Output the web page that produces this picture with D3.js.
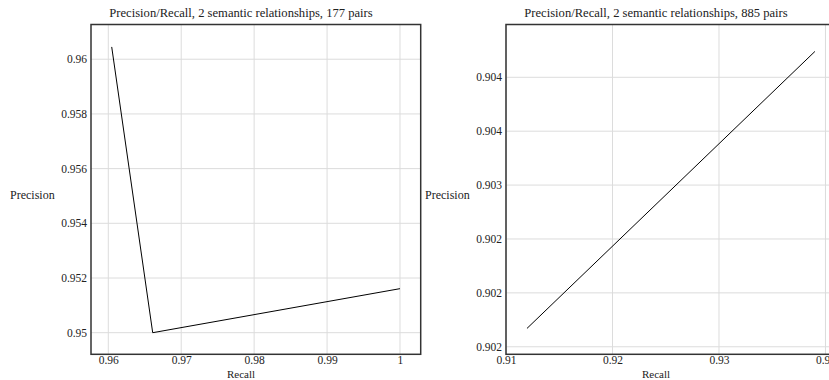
<!DOCTYPE html>
<html>
<head>
<meta charset="utf-8">
<script src="https://cdn.jsdelivr.net/npm/d3@7"></script>
<style>
  body { margin: 0; background: #fff; overflow: hidden; }
  text { font-family: "Liberation Serif", "Times New Roman", serif; fill: #222; }
</style>
</head>
<body>
<div id="canvas"></div>
<script>
// chart 1: 177 pairs
const recall177 = [0.96047, 0.96609, 1.0];
const precision177 = [0.96045, 0.95, 0.95161];
const xTicks177 = [0.96, 0.97, 0.98, 0.99, 1];
const xLabels177 = ["0.96", "0.97", "0.98", "0.99", "1"];
const yTicks177 = [0.95, 0.952, 0.954, 0.956, 0.958, 0.96];
const yLabels177 = ["0.95", "0.952", "0.954", "0.956", "0.958", "0.96"];

// chart 2: 885 pairs
const recall885 = [0.91197, 0.93901];
const precision885 = [0.90167, 0.90424];
const xTicks885 = [0.91, 0.92, 0.93, 0.94];
const xLabels885 = ["0.91", "0.92", "0.93", "0.94"];
const yTicks885 = [0.9015, 0.902, 0.9025, 0.903, 0.9035, 0.904];
const yLabels885 = ["0.902", "0.902", "0.902", "0.903", "0.904", "0.904"];

const titles = [
  "Precision/Recall, 2 semantic relationships, 177 pairs",
  "Precision/Recall, 2 semantic relationships, 885 pairs"
];

const W = 829, H = 380;
const FONT = "12px";
const TICK_FONT = "11.5px";
const svg = d3.select("#canvas").append("svg")
  .attr("width", W)
  .attr("height", H);

// plot box, relative to each panel
const box = { left: 91, top: 24.5, width: 329.7, height: 329.8 };

function drawPanel(offsetX, xs, ys, xDomain, yDomain, xTicks, xLabels, yTicks, yLabels, title) {
  const g = svg.append("g").attr("transform", "translate(" + offsetX + ",0)");
  const x = d3.scaleLinear().domain(xDomain).range([box.left, box.left + box.width]);
  const y = d3.scaleLinear().domain(yDomain).range([box.top + box.height, box.top]);

  // grid
  const grid = g.append("g");
  grid.selectAll(".vg").data(xTicks).enter().append("line")
    .attr("x1", d => x(d)).attr("x2", d => x(d))
    .attr("y1", box.top).attr("y2", box.top + box.height)
    .attr("stroke", "#dcdcdc").attr("stroke-width", 1);
  grid.selectAll(".hg").data(yTicks).enter().append("line")
    .attr("x1", box.left).attr("x2", box.left + box.width)
    .attr("y1", d => y(d)).attr("y2", d => y(d))
    .attr("stroke", "#dcdcdc").attr("stroke-width", 1);

  // axes (labels only)
  const xAxis = g.append("g")
    .attr("transform", "translate(0," + (box.top + box.height) + ")")
    .call(d3.axisBottom(x).tickValues(xTicks).tickSize(0).tickPadding(2)
      .tickFormat((d, i) => xLabels[i]));
  const yAxis = g.append("g")
    .attr("transform", "translate(" + box.left + ",0)")
    .call(d3.axisLeft(y).tickValues(yTicks).tickSize(0).tickPadding(4)
      .tickFormat((d, i) => yLabels[i]));
  [xAxis, yAxis].forEach(a => {
    a.attr("font-family", null).attr("font-size", null);
    a.select(".domain").remove();
    a.selectAll("text").attr("font-size", TICK_FONT).attr("fill", "#222");
  });

  // line
  const pts = xs.map((d, i) => [d, ys[i]]);
  g.append("path")
    .attr("d", d3.line().x(d => x(d[0])).y(d => y(d[1]))(pts))
    .attr("fill", "none")
    .attr("stroke", "#000")
    .attr("stroke-width", 1);

  // frame
  g.append("rect")
    .attr("x", box.left).attr("y", box.top)
    .attr("width", box.width).attr("height", box.height)
    .attr("fill", "none").attr("stroke", "#333").attr("stroke-width", 1.5);

  // titles
  g.append("text")
    .attr("x", 241).attr("y", 17)
    .attr("text-anchor", "middle")
    .attr("font-size", "12.6px")
    .text(title);
  g.append("text")
    .attr("x", 241).attr("y", 377.5)
    .attr("text-anchor", "middle")
    .attr("font-size", "11px")
    .text("Recall");
  g.append("text")
    .attr("x", 10).attr("y", 199)
    .attr("font-size", FONT)
    .text("Precision");
}

drawPanel(0, recall177, precision177, [0.95763, 1.00284], [0.94921, 0.96127],
  xTicks177, xLabels177, yTicks177, yLabels177, titles[0]);
drawPanel(415, recall885, precision885, [0.91, 0.94096], [0.90143, 0.90449],
  xTicks885, xLabels885, yTicks885, yLabels885, titles[1]);
</script>
</body>
</html>
